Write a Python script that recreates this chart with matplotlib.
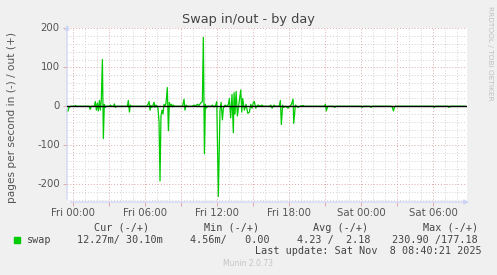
import matplotlib
matplotlib.use("Agg")
import matplotlib.pyplot as plt
from matplotlib.ticker import MultipleLocator
import numpy as np

# swap activity, hours since Fri 00:00 -> pages/s (in negative, out positive)
hours = [-0.53, -0.45, -0.37, -0.2, 0.1, 0.17, 0.25, 1.3, 1.4, 1.5, 1.75, 1.83, 1.92, 2.0,
         2.08, 2.17, 2.25, 2.33, 2.42, 2.5, 2.58, 2.67, 2.75, 3.0, 3.08, 3.17, 3.35, 3.42,
         3.5, 3.58, 4.5, 4.58, 4.67, 4.75, 4.83,
         6.1, 6.22, 6.31, 6.39, 6.47, 6.55, 6.64, 6.72, 6.8, 6.88, 6.97, 7.05, 7.14, 7.22,
         7.3, 7.39, 7.47, 7.55, 7.64, 7.72, 7.83, 7.92, 8.0, 8.08, 8.17, 8.25, 8.33, 8.42,
         9.1, 9.22, 9.3, 9.39, 9.47, 9.9, 10.06, 10.2, 10.33, 10.47, 10.6, 10.75, 10.83,
         10.92, 11.0, 11.08, 11.17, 11.5, 11.6, 11.7, 11.85, 11.95, 12.08, 12.22, 12.31,
         12.42, 12.5, 12.64, 12.78, 12.92, 13.0, 13.11, 13.22, 13.33, 13.39, 13.47, 13.56,
         13.67, 13.81, 13.95, 14.03, 14.11, 14.25, 14.39, 14.53, 14.67, 14.78, 14.89, 15.0,
         15.08, 15.2, 15.33, 15.42, 15.56, 15.7, 15.83,
         16.35, 16.45, 16.56, 16.72, 16.83, 17.15, 17.25, 17.33, 17.44, 17.53, 17.67, 17.89,
         18.03, 18.17, 18.31, 18.36, 18.5, 18.61, 18.72, 18.86, 19.14, 19.22,
         20.9, 21.0, 21.08, 21.19, 21.7, 21.78, 21.86,
         23.98, 24.06, 24.14, 24.73, 24.81, 24.89, 26.5, 26.58, 26.67, 26.75, 26.83,
         29.98, 30.06, 30.14, 31.22, 31.3, 31.38, 32.67]
swap = [-10, -13, -3, 0, 0, 2, 0, 0, -8, 0, 0, 12, -10, 8,
        -12, 15, -10, 18, 120, -83, 5, -3, 0, 0, 3, 0, 0, 6,
        -3, 0, 0, 15, -15, 3, 0,
        0, 5, 12, -10, 2, -3, 3, 10, -3, 3, 0, -5, -40, -192,
        -25, -10, -20, 5, 0, 8, 48, -63, 10, 2, 5, -2, 3, 0,
        0, 18, -10, 3, 0, 0, 3, 0, 5, 2, 8, 12, 177,
        -122, 5, -5, 0, 0, 3, -2, 2, 12, -232, -10, 10,
        -35, -5, 3, 0, 5, 20, -30, 30, -68, 35, -20, 38,
        -25, 10, 42, -15, 20, -10, 5, -18, -15, 5, -5, 10,
        12, -5, 2, 3, 0, 3, 0,
        0, 3, -5, 3, 0, 0, 15, -47, 3, -3, 0, -5,
        0, 5, 18, -44, 3, 0, -3, 0, 2, 0,
        0, 5, -12, 0, 0, -3, 0,
        0, -3, 0, 0, -3, 0, 0, -3, -12, -3, 0,
        0, -3, 0, 0, -3, 0, 0]

xtick_hours = [0, 6, 12, 18, 24, 30]
xtick_labels = ["Fri 00:00", "Fri 06:00", "Fri 12:00", "Fri 18:00", "Sat 00:00", "Sat 06:00"]
ytick_vals = [-200, -100, 0, 100, 200]

legend_head = ["Cur (-/+)", "Min (-/+)", "Avg (-/+)", "Max (-/+)"]
legend_vals = ["12.27m/ 30.10m", "4.56m/   0.00", "4.23 /  2.18", "230.90 /177.18"]

W, H = 497, 275
fig = plt.figure(figsize=(W / 100, H / 100), dpi=100, facecolor="#f0f0f0")
x0, x1, y0, y1 = 67, 467, 28, 202
ax = fig.add_axes([x0 / W, 1 - y1 / H, (x1 - x0) / W, (y1 - y0) / H])
ax.set_facecolor("white")

ax.set_xlim(-0.53, 32.8)
ax.set_ylim(-246, 201)

red = "#e0a8a8"
gray = "#d2d2d2"
ax.xaxis.set_major_locator(MultipleLocator(3))
ax.xaxis.set_minor_locator(MultipleLocator(1))
ax.yaxis.set_major_locator(MultipleLocator(100))
ax.yaxis.set_minor_locator(MultipleLocator(20))
ax.grid(which="minor", color=gray, lw=0.7, ls=(0, (1, 2)))
ax.grid(which="major", color=red, lw=0.7, ls=(0, (1, 2)))
ax.set_axisbelow(True)

ax.set_xticklabels([])
ax.set_yticklabels([])
ax.tick_params(which="major", length=3, color=red, width=0.7, pad=2)
ax.tick_params(which="minor", length=0)

for h, lab in zip(xtick_hours, xtick_labels):
    ax.text(h, -0.035, lab, transform=ax.get_xaxis_transform(), ha="center", va="top",
            fontsize=7.3, color="#555555")
for v in ytick_vals:
    ax.text(-0.018, v, "%d" % v, transform=ax.get_yaxis_transform(), ha="right",
            va="center", fontsize=7.3, color="#555555")

ax.plot(hours, swap, color="#00cc00", lw=0.9, zorder=3)
ax.axhline(0, color="black", lw=1.0, zorder=4)

for s in ax.spines.values():
    s.set_visible(False)
axis_col = "#ccd4f4"
ax.annotate("", xy=(0, 1.035), xytext=(0, 0), xycoords="axes fraction",
            arrowprops=dict(arrowstyle="-|>", color=axis_col, lw=0.9, mutation_scale=7),
            annotation_clip=False)
ax.annotate("", xy=(1.012, 0), xytext=(0, 0), xycoords="axes fraction",
            arrowprops=dict(arrowstyle="-|>", color=axis_col, lw=0.9, mutation_scale=7),
            annotation_clip=False)

fig.text(248 / W, 1 - 19 / H, "Swap in/out - by day", ha="center", va="center",
         fontsize=9.3, color="#444444")
fig.text(12 / W, 1 - 117 / H, "pages per second in (-) / out (+)", rotation=90,
         ha="center", va="center", fontsize=7.6, color="#555555")
fig.text(490 / W, 1 - 6 / H, "RRDTOOL / TOBI OETIKER", rotation=270, ha="center",
         va="top", fontsize=5.3, color="#c0c0c0")

mono = "DejaVu Sans Mono"
head_x = [94, 204, 313, 423]
val_x = [77, 190, 297, 392]
for hx, t in zip(head_x, legend_head):
    fig.text(hx / W, 1 - 228 / H, t, ha="left", va="center", fontsize=7.3,
             family=mono, color="#444444")
for vx, t in zip(val_x, legend_vals):
    fig.text(vx / W, 1 - 240 / H, t, ha="left", va="center", fontsize=7.3,
             family=mono, color="#444444")
fig.patches.append(plt.Rectangle((14 / W, 1 - 243 / H), 6 / W, 6 / H,
                                 transform=fig.transFigure, color="#00cc00"))
fig.text(27 / W, 1 - 240 / H, "swap", ha="left", va="center", fontsize=7.3,
         family=mono, color="#444444")
fig.text(482 / W, 1 - 251 / H, "Last update: Sat Nov  8 08:40:21 2025", ha="right",
         va="center", fontsize=7.3, family=mono, color="#444444")
fig.text(248 / W, 1 - 264 / H, "Munin 2.0.73", ha="center", va="center",
         fontsize=5.5, color="#c4c4c4")

fig.savefig("out.png", dpi=100, facecolor=fig.get_facecolor())
